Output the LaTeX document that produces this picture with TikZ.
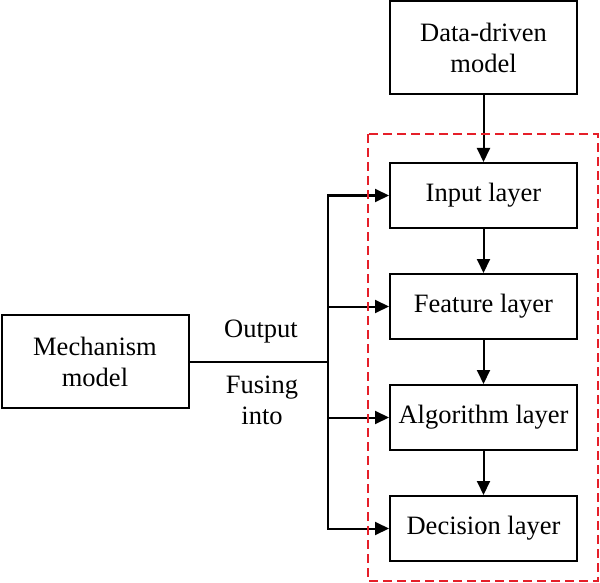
\documentclass[tikz,border=0pt]{standalone}
\usepackage{fontspec}
\setmainfont{Liberation Serif}
\usetikzlibrary{positioning}
\usetikzlibrary{arrows.meta}
\definecolor{dashred}{rgb}{0.9,0.12,0.16}

\begin{document}
\begin{tikzpicture}[
            x = 1pt, y = -1pt,
            > = {Triangle[length=14pt,width=13pt]}, % arrow head style
            line width = 2pt, % line style
            node distance = 111pt, % distance between layers
            font = \fontsize{26.5}{31}\selectfont
        ]

        \tikzstyle{layer}=[
            draw,
            align = center,
            inner sep = 0pt,
            minimum width = 187pt,
            minimum height = 65pt
        ]
        \tikzstyle{model}=[layer, minimum height = 93pt]

        \useasboundingbox (0,0) rectangle (600,583);

        % data-driven side
        \node[model] (DD) at (483.5,47.5) {Data-driven\\model};

        % layers
        \node[layer] (IN) at (483.5,195.5) {Input layer};
        \node[layer] (FE) [below of = IN] {Feature layer};
        \node[layer] (AL) [below of = FE] {Algorithm layer};
        \node[layer] (DE) [below of = AL] {Decision layer};

        \draw[->] (DD) -- (IN);
        \draw[->] (IN) -- (FE);
        \draw[->] (FE) -- (AL);
        \draw[->] (AL) -- (DE);

        % mechanism side
        \node[model] (MM) at (95,361.5) {Mechanism\\model};
        \coordinate (BUS) at (328,361.5);

        \draw (MM) -- (BUS);
        \draw[->] (BUS) |- (IN);
        \draw[->] (BUS) |- (DE);
        \draw[->] (BUS |- FE.west) -- (FE.west);
        \draw[->] (BUS |- AL.west) -- (AL.west);

        \node (OUT) at (261,332) {Output};
        \node[align = center] (FUS) at (262,400) {Fusing\\into};

        % fusion frame
        \draw[dashred, line width = 1.5pt, dash pattern = on 9pt off 5pt]
            (368,134) rectangle (598,581);

\end{tikzpicture}
\end{document}
